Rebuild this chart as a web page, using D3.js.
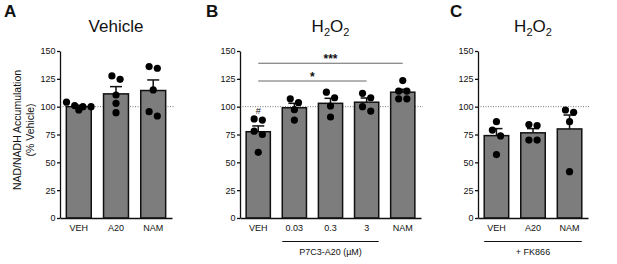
<!DOCTYPE html>
<html>
<head>
<meta charset="utf-8">
<script src="https://cdn.jsdelivr.net/npm/d3@7"></script>
<style>
  body { margin: 0; background: #fff; }
  text { font-family: "Liberation Sans", Arial, Helvetica, sans-serif; fill: #111; }
</style>
</head>
<body>
<div id="chart"></div>
<script>
// ---- data ----
const catsA = ["VEH", "A20", "NAM"];
const meanA = [100, 111.5, 114.5];
const semA = [1.3, 6.5, 9.5];
const ptsA = [[104, 100, 97, 100, 101], [127.6, 124.6, 110.5, 103, 94.6], [134.5, 136, 115, 91.6, 95.5]];

const catsB = ["VEH", "0.03", "0.3", "3", "NAM"];
const meanB = [77.5, 99, 103, 104, 113];
const semB = [5.2, 4, 4.5, 3.8, 2.6];
const ptsB = [[88, 89, 78, 75, 59], [107, 103.6, 97.3, 88], [113, 108, 100.6, 90.7], [112, 108, 100, 96], [123.4, 114, 114, 107, 107]];

const catsC = ["VEH", "A20", "NAM"];
const meanC = [74, 76.5, 80];
const semC = [6.3, 3.8, 12.5];
const ptsC = [[86.5, 79, 73.7, 57], [84, 83, 70, 70], [95, 97, 86.5, 41.6]];

const yTicks = [0, 25, 50, 75, 100, 125, 150];
const compsB = [
  {a: "VEH", b: "NAM", label: "***", level: 139, color: "#666", w: 1},
  {a: "VEH", b: "3", label: "*", level: 123, color: "#9a9a9a", w: 1.6}
];

const width = 617, height = 264;
const svg = d3.select("#chart").append("svg")
  .attr("width", width)
  .attr("height", height);

const y = d3.scaleLinear().domain([0, 150]).range([218, 51]);

const panels = [
  {letter: "A", lx: 4, title: "Vehicle", cats: catsA, mean: meanA, sem: semA, pts: ptsA, x0: 60, x1: 172},
  {letter: "B", lx: 206, title: "H2O2", cats: catsB, mean: meanB, sem: semB, pts: ptsB, x0: 240, x1: 421,
   comps: compsB, hash: {cat: "VEH", level: 93.5},
   group: {from: "0.03", to: "3", label: "P7C3-A20 (\u00b5M)"}},
  {letter: "C", lx: 450, title: "H2O2", cats: catsC, mean: meanC, sem: semC, pts: ptsC, x0: 478, x1: 588,
   group: {from: "VEH", to: "NAM", label: "+ FK866"}}
];

// put points of similar height side by side, centred on the bar
function layoutDots(vals, r) {
  let sorted = vals.map(v => ({v: v, py: y(v)})).sort((a, b) => a.py - b.py);
  let rows = [];
  sorted.forEach(p => {
    let row = rows[rows.length - 1];
    if (row && p.py - row[0].py < 2 * r - 0.5) row.push(p);
    else rows.push([p]);
  });
  let out = [];
  rows.forEach(row => {
    let gap = 2 * r + 1;
    row.forEach((p, i) => {
      out.push({v: p.v, dx: (i - (row.length - 1) / 2) * gap});
    });
  });
  return out;
}

panels.forEach(p => {
  const g = svg.append("g");
  const x = d3.scaleBand()
    .domain(p.cats)
    .range([p.x0, p.x1])
    .paddingInner(0.33)
    .paddingOuter(0.17);
  const bw = x.bandwidth();

  // panel letter
  g.append("text")
    .attr("x", p.lx).attr("y", 17)
    .attr("font-size", 17).attr("font-weight", "bold")
    .text(p.letter);

  // title
  const cx = (p.x0 + p.x1) / 2;
  const t = g.append("text")
    .attr("x", cx).attr("y", 32)
    .attr("text-anchor", "middle")
    .attr("font-size", 17);
  if (p.title === "H2O2") {
    t.append("tspan").text("H");
    t.append("tspan").attr("font-size", 11).attr("dy", 4).text("2");
    t.append("tspan").attr("dy", -4).text("O");
    t.append("tspan").attr("font-size", 11).attr("dy", 4).text("2");
  } else {
    t.text(p.title);
  }

  // dotted reference at 100
  g.append("line")
    .attr("x1", p.x0).attr("x2", p.x1 + 2)
    .attr("y1", y(100)).attr("y2", y(100))
    .attr("stroke", "#777").attr("stroke-width", 1)
    .attr("stroke-dasharray", "1,1.5");

  // bars
  g.selectAll("rect.bar")
    .data(p.cats)
    .enter().append("rect")
    .attr("class", "bar")
    .attr("x", d => x(d))
    .attr("y", (d, i) => y(p.mean[i]))
    .attr("width", bw)
    .attr("height", (d, i) => y(0) - y(p.mean[i]))
    .attr("fill", "#7d7d7d")
    .attr("stroke", "#111")
    .attr("stroke-width", 1.5);

  // error bars (upper only)
  const cap = 12;
  p.cats.forEach((c, i) => {
    const mx = x(c) + bw / 2;
    g.append("line")
      .attr("x1", mx).attr("x2", mx)
      .attr("y1", y(p.mean[i])).attr("y2", y(p.mean[i] + p.sem[i]))
      .attr("stroke", "#111").attr("stroke-width", 1.5);
    g.append("line")
      .attr("x1", mx - cap / 2).attr("x2", mx + cap / 2)
      .attr("y1", y(p.mean[i] + p.sem[i])).attr("y2", y(p.mean[i] + p.sem[i]))
      .attr("stroke", "#111").attr("stroke-width", 1.5);
  });

  // individual points
  const r = 3.6;
  p.cats.forEach((c, i) => {
    const mx = x(c) + bw / 2;
    g.selectAll(null)
      .data(layoutDots(p.pts[i], r))
      .enter().append("circle")
      .attr("cx", d => mx + d.dx)
      .attr("cy", d => y(d.v))
      .attr("r", r)
      .attr("fill", "#000");
  });

  // axes
  const yAxis = g.append("g")
    .attr("transform", `translate(${p.x0},0)`)
    .call(d3.axisLeft(y).tickValues(yTicks).tickSize(3).tickSizeOuter(0).tickPadding(1.5));
  yAxis.selectAll("text").attr("font-size", 9).attr("font-family", null);
  yAxis.selectAll("line, path").attr("stroke", "#111").attr("stroke-width", 1.3);

  const xAxis = g.append("g")
    .attr("transform", `translate(0,${y(0)})`)
    .call(d3.axisBottom(x).tickSize(0).tickSizeOuter(0).tickPadding(6.5));
  xAxis.selectAll("text").attr("font-size", 9).attr("font-family", null);
  xAxis.select("path").attr("stroke", "#111").attr("stroke-width", 1.3);

  // significance lines
  if (p.comps) {
    p.comps.forEach(cm => {
      const xa = x(cm.a) + bw / 2, xb = x(cm.b) + bw / 2;
      g.append("line")
        .attr("x1", xa).attr("x2", xb)
        .attr("y1", y(cm.level)).attr("y2", y(cm.level))
        .attr("stroke", cm.color).attr("stroke-width", cm.w);
      g.append("text")
        .attr("x", (xa + xb) / 2).attr("y", y(cm.level) - 0.5)
        .attr("text-anchor", "middle")
        .attr("font-size", 12).attr("font-weight", "bold")
        .text(cm.label);
    });
  }
  if (p.hash) {
    g.append("text")
      .attr("x", x(p.hash.cat) + bw / 2).attr("y", y(p.hash.level))
      .attr("text-anchor", "middle")
      .attr("font-size", 9)
      .text("#");
  }

  // group line under x labels
  if (p.group) {
    const ga = x(p.group.from), gb = x(p.group.to) + bw;
    g.append("line")
      .attr("x1", ga).attr("x2", gb)
      .attr("y1", 241.5).attr("y2", 241.5)
      .attr("stroke", "#111").attr("stroke-width", 1);
    g.append("text")
      .attr("x", (ga + gb) / 2).attr("y", 255)
      .attr("text-anchor", "middle")
      .attr("font-size", 9)
      .text(p.group.label);
  }
});

// y-axis title
const yl = svg.append("g").attr("transform", "translate(0,130) rotate(-90)");
yl.append("text").attr("x", 0).attr("y", 21)
  .attr("text-anchor", "middle").attr("font-size", 10.5)
  .text("NAD/NADH Accumulation");
yl.append("text").attr("x", 0).attr("y", 34)
  .attr("text-anchor", "middle").attr("font-size", 10.5)
  .text("(% Vehicle)");
</script>
</body>
</html>
